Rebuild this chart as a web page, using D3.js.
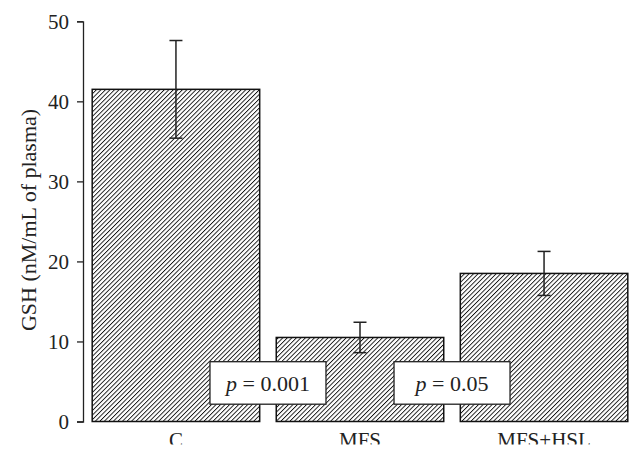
<!DOCTYPE html>
<html><head><meta charset="utf-8">
<script src="https://cdn.jsdelivr.net/npm/d3@7"></script>
<style>body{margin:0;background:#fff;} svg{display:block;}</style>
</head><body>
<svg id="c" width="643" height="460"></svg>
<script>
const categories = ["C", "MFS", "MFS+HSL"];
const values = [41.5, 10.5, 18.5];
const errors = [6.1, 1.9, 2.75];
const yTicks = [0, 10, 20, 30, 40, 50];
const pLabels = ["0.001", "0.05"];
const yTitle = "GSH (nM/mL of plasma)";

const svg = d3.select("#c");
const font = "'Liberation Serif', 'Times New Roman', serif";
const x = d3.scaleBand().domain(categories).range([83, 637]).paddingInner(0.09).paddingOuter(0.05);
const y = d3.scaleLinear().domain([0, 50]).range([421.5, 21.3]);

const defs = svg.append("defs");
const pat = defs.append("pattern").attr("id", "hatch").attr("patternUnits", "userSpaceOnUse")
  .attr("width", 3.2).attr("height", 3.2).attr("patternTransform", "rotate(45)");
pat.append("rect").attr("width", 3.2).attr("height", 3.2).attr("fill", "#fff");
pat.append("line").attr("x1", 0).attr("y1", 0).attr("x2", 0).attr("y2", 3.2)
  .attr("stroke", "#111").attr("stroke-width", 1.8);
defs.append("clipPath").attr("id", "labclip").append("rect")
  .attr("x", 0).attr("y", 0).attr("width", 643).attr("height", 444.5);

// bars
svg.selectAll("rect.bar").data(categories).join("rect").attr("class", "bar")
  .attr("x", d => x(d)).attr("width", x.bandwidth())
  .attr("y", (d, i) => y(values[i])).attr("height", (d, i) => y(0) - y(values[i]))
  .attr("fill", "url(#hatch)").attr("stroke", "#111").attr("stroke-width", 1.5);

// error bars
const eg = svg.append("g").attr("stroke", "#222").attr("stroke-width", 1.5);
categories.forEach((c, i) => {
  const cx = x(c) + x.bandwidth() / 2;
  eg.append("line").attr("x1", cx).attr("x2", cx).attr("y1", y(values[i] + errors[i])).attr("y2", y(values[i] - errors[i]));
  [values[i] + errors[i], values[i] - errors[i]].forEach(v => {
    eg.append("line").attr("x1", cx - 6.5).attr("x2", cx + 6.5).attr("y1", y(v)).attr("y2", y(v));
  });
});

// y axis
const ax = svg.append("g").attr("transform", "translate(83,0)")
  .call(d3.axisLeft(y).tickValues(yTicks).tickSize(6).tickPadding(8).tickFormat(d3.format("d")));
ax.select(".domain").attr("stroke", "#222").attr("stroke-width", 1.3);
ax.selectAll(".tick line").attr("stroke", "#222").attr("stroke-width", 1.3);
ax.selectAll(".tick text").attr("font-family", font).attr("font-size", 21).attr("fill", "#222");

// y title
svg.append("text").attr("transform", "translate(36,220) rotate(-90)")
  .attr("text-anchor", "middle").attr("font-family", font).attr("font-size", 22).attr("fill", "#222")
  .text(yTitle);

// x labels
svg.append("g").attr("clip-path", "url(#labclip)")
  .selectAll("text.xl").data(categories).join("text").attr("class", "xl")
  .attr("x", d => x(d) + x.bandwidth() / 2).attr("y", 446.5)
  .attr("text-anchor", "middle").attr("font-family", font).attr("font-size", 21).attr("fill", "#222")
  .text(d => d);

// p-value boxes, placed between adjacent bars
pLabels.forEach((p, i) => {
  const xc = (x(categories[i]) + x.bandwidth() + x(categories[i + 1])) / 2;
  const g = svg.append("g");
  g.append("rect").attr("x", xc - 58).attr("y", 361.7).attr("width", 116).attr("height", 42.5)
    .attr("fill", "#fff").attr("stroke", "#222").attr("stroke-width", 1.3);
  const t = g.append("text").attr("x", xc).attr("y", 390.5).attr("text-anchor", "middle")
    .attr("font-family", font).attr("font-size", 22).attr("fill", "#222");
  t.append("tspan").attr("font-style", "italic").text("p");
  t.append("tspan").text(" = " + p);
});
</script>
</body></html>
